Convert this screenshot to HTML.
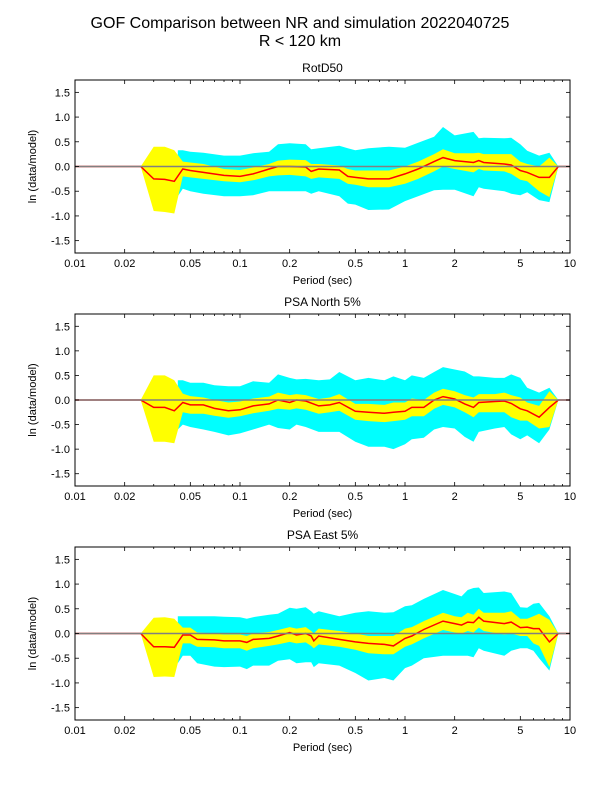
<!DOCTYPE html>
<html><head><meta charset="utf-8"><style>
body{margin:0;background:#fff;}
svg{display:block;font-family:"Liberation Sans","DejaVu Sans",sans-serif;}
</style></head><body>
<svg id="s" width="600" height="800" xmlns="http://www.w3.org/2000/svg">
<rect width="600" height="800" fill="#fff"/>
<text x="300" y="28" text-anchor="middle" font-size="16">GOF Comparison between NR and simulation 2022040725</text>
<text x="300" y="46" text-anchor="middle" font-size="16">R &lt; 120 km</text>
</svg>
<script>
const S=document.getElementById('s');const NS='http://www.w3.org/2000/svg';
function el(t,a,txt){const e=document.createElementNS(NS,t);for(const k in a)e.setAttribute(k,a[k]);if(txt!==undefined)e.textContent=txt;S.appendChild(e);return e;}
const X0=75,X1=570;
function X(p){return X0+165*Math.log10(p/0.01);}
const plots=[
{t:'RotD50',top:80,bot:253,d:[
[0.025,0,0,0],[0.03,-0.25,-0.9,0.4],[0.035,-0.26,-0.92,0.4],[0.04,-0.3,-0.95,0.33],
[0.045,-0.05,-0.2,0.1,-0.45,0.33],[0.05,-0.08,-0.22,0.08,-0.5,0.3],[0.06,-0.12,-0.25,0.05,-0.55,0.28],
[0.08,-0.18,-0.3,-0.05,-0.6,0.22],[0.1,-0.2,-0.32,-0.07,-0.6,0.22],[0.12,-0.15,-0.28,-0.02,-0.58,0.27],
[0.15,-0.05,-0.2,0.05,-0.5,0.3],[0.17,0,-0.18,0.12,-0.5,0.45],[0.2,0,-0.17,0.14,-0.5,0.47],
[0.25,-0.01,-0.2,0.13,-0.5,0.45],[0.27,-0.1,-0.25,0.05,-0.55,0.35],[0.3,-0.05,-0.22,0.05,-0.5,0.37],
[0.4,-0.07,-0.25,0.02,-0.6,0.42],[0.45,-0.2,-0.35,-0.05,-0.75,0.37],[0.5,-0.22,-0.37,-0.08,-0.77,0.33],
[0.6,-0.25,-0.42,-0.08,-0.88,0.37],[0.8,-0.25,-0.42,-0.08,-0.87,0.4],[1.0,-0.15,-0.35,0,-0.7,0.38],
[1.2,-0.05,-0.25,0.1,-0.6,0.48],[1.5,0.1,-0.1,0.25,-0.48,0.6],[1.7,0.18,0,0.35,-0.47,0.8],
[2.0,0.12,-0.05,0.27,-0.47,0.63],[2.6,0.08,-0.12,0.27,-0.6,0.7],[2.8,0.12,-0.05,0.28,-0.42,0.57],
[3.0,0.08,-0.08,0.25,-0.45,0.58],[4.0,0.05,-0.1,0.25,-0.5,0.57],[4.4,0.03,-0.15,0.25,-0.55,0.58],
[5.0,-0.08,-0.27,0.1,-0.58,0.45],[5.5,-0.12,-0.3,0.05,-0.52,0.32],[6.5,-0.22,-0.5,0,-0.68,0.22],
[7.5,-0.22,-0.62,0.18,-0.72,0.28],[8.5,0,0,0,0,0]]},
{t:'PSA North 5%',top:314,bot:486,d:[
[0.025,0,0,0],[0.03,-0.15,-0.85,0.5],[0.035,-0.15,-0.85,0.5],[0.04,-0.22,-0.88,0.4],
[0.045,-0.05,-0.25,0.13,-0.5,0.4],[0.05,-0.1,-0.28,0.08,-0.55,0.35],[0.06,-0.1,-0.28,0.05,-0.6,0.35],
[0.07,-0.17,-0.32,0,-0.65,0.3],[0.085,-0.22,-0.36,-0.05,-0.72,0.28],[0.1,-0.2,-0.33,-0.03,-0.68,0.28],
[0.12,-0.12,-0.27,0.03,-0.6,0.38],[0.15,-0.08,-0.22,0.07,-0.5,0.35],[0.17,0,-0.18,0.15,-0.57,0.52],
[0.2,-0.05,-0.2,0.1,-0.6,0.45],[0.22,0,-0.17,0.12,-0.5,0.42],[0.25,-0.02,-0.2,0.1,-0.55,0.43],
[0.3,-0.12,-0.28,0.02,-0.65,0.4],[0.35,-0.1,-0.25,0.05,-0.65,0.42],[0.4,-0.05,-0.22,0.12,-0.65,0.57],
[0.5,-0.23,-0.4,-0.08,-0.85,0.4],[0.6,-0.25,-0.43,-0.08,-0.95,0.45],[0.75,-0.27,-0.45,-0.1,-0.95,0.4],
[0.85,-0.25,-0.43,-0.05,-1.0,0.48],[1.0,-0.23,-0.4,-0.05,-0.9,0.4],[1.1,-0.15,-0.33,0.03,-0.8,0.5],
[1.3,-0.15,-0.33,0,-0.77,0.45],[1.5,0,-0.18,0.15,-0.6,0.57],[1.7,0.07,-0.1,0.23,-0.55,0.67],
[2.0,0.02,-0.15,0.18,-0.58,0.62],[2.3,-0.08,-0.25,0.1,-0.75,0.58],[2.6,-0.15,-0.35,0.05,-0.85,0.48],
[2.8,-0.05,-0.25,0.12,-0.65,0.48],[3.5,-0.03,-0.25,0.12,-0.58,0.45],[4.0,-0.02,-0.25,0.15,-0.55,0.45],
[4.4,-0.07,-0.35,0.1,-0.7,0.52],[5.0,-0.18,-0.42,0.05,-0.8,0.45],[5.5,-0.22,-0.42,-0.05,-0.72,0.25],
[6.5,-0.35,-0.58,-0.12,-0.88,0.15],[7.5,-0.15,-0.55,0.18,-0.6,0.25],[8.5,0,0,0,0,0]]},
{t:'PSA East 5%',top:547,bot:720,d:[
[0.025,0,0,0],[0.03,-0.27,-0.88,0.32],[0.035,-0.27,-0.87,0.33],[0.04,-0.28,-0.88,0.3],
[0.045,-0.03,-0.2,0.12,-0.45,0.35],[0.05,-0.03,-0.2,0.12,-0.45,0.35],[0.055,-0.12,-0.27,0.02,-0.6,0.35],
[0.07,-0.13,-0.28,0,-0.67,0.35],[0.08,-0.15,-0.3,-0.02,-0.68,0.34],[0.1,-0.15,-0.3,-0.02,-0.67,0.33],
[0.11,-0.18,-0.35,-0.05,-0.72,0.3],[0.12,-0.12,-0.3,0,-0.65,0.33],[0.15,-0.1,-0.25,0.03,-0.65,0.38],
[0.17,-0.05,-0.22,0.07,-0.55,0.4],[0.2,0.02,-0.17,0.13,-0.52,0.52],[0.22,-0.03,-0.2,0.1,-0.6,0.5],
[0.25,0,-0.18,0.13,-0.58,0.53],[0.27,-0.05,-0.25,0.05,-0.58,0.45],[0.28,-0.15,-0.3,0,-0.68,0.4],
[0.3,-0.05,-0.22,0.1,-0.6,0.45],[0.4,-0.12,-0.27,0.05,-0.65,0.35],[0.5,-0.17,-0.33,0,-0.8,0.42],
[0.6,-0.2,-0.4,-0.05,-0.95,0.45],[0.75,-0.22,-0.42,-0.05,-0.9,0.42],[0.85,-0.25,-0.42,-0.05,-0.95,0.43],
[1.0,-0.1,-0.27,0.1,-0.7,0.55],[1.1,-0.05,-0.22,0.13,-0.65,0.57],[1.3,0.08,-0.1,0.25,-0.5,0.7],
[1.7,0.25,0.07,0.42,-0.45,0.88],[2.0,0.2,0.02,0.35,-0.45,0.8],[2.2,0.17,0,0.33,-0.45,0.75],
[2.4,0.23,0.05,0.42,-0.45,0.88],[2.6,0.22,0.02,0.38,-0.48,0.92],[2.8,0.33,0.12,0.5,-0.3,0.93],
[3.0,0.25,0.05,0.42,-0.35,0.82],[4.0,0.2,-0.02,0.42,-0.45,0.85],[4.4,0.23,0,0.45,-0.35,0.82],
[5.0,0.12,-0.05,0.3,-0.3,0.53],[5.5,0.13,-0.05,0.3,-0.3,0.52],[6.0,0.1,-0.2,0.35,-0.35,0.6],
[6.5,0.1,-0.25,0.4,-0.5,0.62],[7.5,-0.17,-0.68,0.28,-0.75,0.35],[8.5,0,0,0,0,0]]}
];
for(const P of plots){
  const c=(P.top+P.bot)/2, k=(P.bot-P.top)/3.5;
  const Y=v=>c-v*k;
  const cy=P.d.filter(r=>r.length>4);
  let up=[[0.042,cy[0][5]],...cy.map(r=>[r[0],r[5]])];
  let lo=[[0.042,-0.6],...cy.map(r=>[r[0],r[4]])];
  const poly=(u,l,col)=>{const s=u.map(q=>X(q[0]).toFixed(1)+','+Y(q[1]).toFixed(1)).concat(l.slice().reverse().map(q=>X(q[0]).toFixed(1)+','+Y(q[1]).toFixed(1)));el('polygon',{points:s.join(' '),fill:col});};
  poly(up,lo,'#00ffff');
  poly(P.d.map(r=>[r[0],r[3]]),P.d.map(r=>[r[0],r[2]]),'#ffff00');
  const rl=[[0.01,0],...P.d.map(r=>[r[0],r[1]]),[10,0]];
  el('polyline',{points:rl.map(q=>X(q[0]).toFixed(1)+','+Y(q[1]).toFixed(1)).join(' '),fill:'none',stroke:'#ff0000','stroke-width':1.5});
  el('line',{x1:X0,x2:X1,y1:Y(0),y2:Y(0),stroke:'#808080','stroke-width':1.5});
  el('rect',{x:X0,y:P.top,width:X1-X0,height:P.bot-P.top,fill:'none',stroke:'#000','stroke-width':1});
  for(let d=0.01;d<10;d*=10){for(let m=1;m<10;m++){const p=d*m;const x=X(p);const maj=(m===1||m===2||m===5);const L=maj?4:2;
    el('line',{x1:x,x2:x,y1:P.bot,y2:P.bot-L,stroke:'#000','stroke-width':0.8});
    el('line',{x1:x,x2:x,y1:P.top,y2:P.top+L,stroke:'#000','stroke-width':0.8});
    if(maj)el('text',{x:x,y:P.bot+14,'text-anchor':'middle','font-size':11},String(+p.toPrecision(2)));}}
  el('text',{x:X1,y:P.bot+14,'text-anchor':'middle','font-size':11},'10');
  for(const v of [-1.5,-1,-0.5,0,0.5,1,1.5]){const y=Y(v);
    el('line',{x1:X0,x2:X0+4,y1:y,y2:y,stroke:'#000','stroke-width':0.8});
    el('line',{x1:X1,x2:X1-4,y1:y,y2:y,stroke:'#000','stroke-width':0.8});
    el('text',{x:X0-5,y:y+4,'text-anchor':'end','font-size':11},v.toFixed(1));}
  el('text',{x:(X0+X1)/2,y:P.top-8,'text-anchor':'middle','font-size':12},P.t);
  el('text',{x:(X0+X1)/2,y:P.bot+31,'text-anchor':'middle','font-size':11},'Period (sec)');
  el('text',{x:0,y:0,'text-anchor':'middle','font-size':11,transform:`translate(36,${c}) rotate(-90)`},'ln (data/model)');
}
</script>
</body></html>
